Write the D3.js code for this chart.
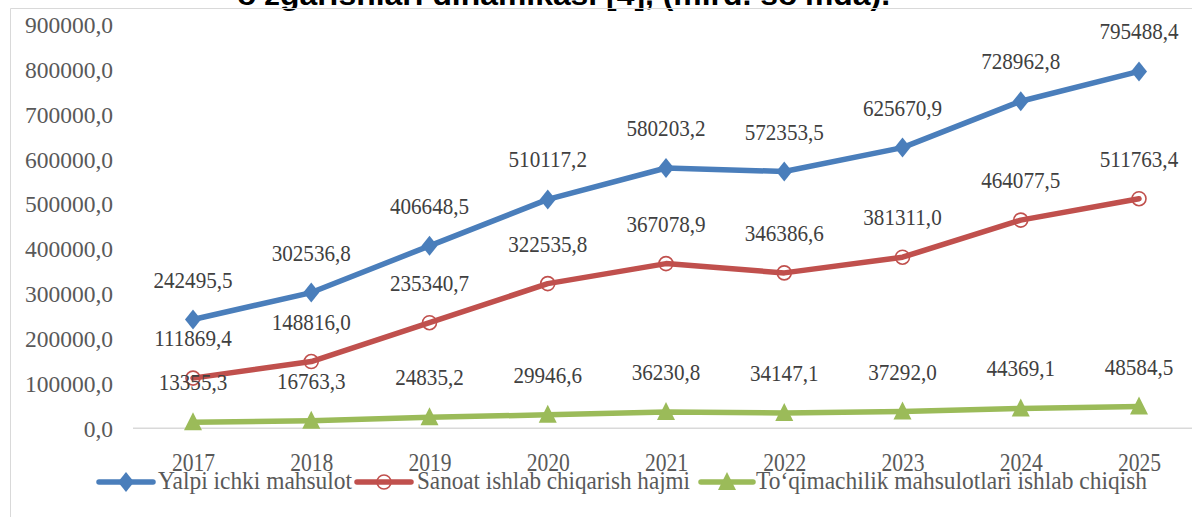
<!DOCTYPE html>
<html><head><meta charset="utf-8">
<script src="https://cdn.jsdelivr.net/npm/d3@7"></script>
<style>
html,body{margin:0;padding:0;background:#fff;overflow:hidden}
svg{display:block}
</style></head>
<body>
<svg id="c" width="1192" height="517"></svg>
<script>
const years = ["2017","2018","2019","2020","2021","2022","2023","2024","2025"];
const gdp = [242495.5,302536.8,406648.5,510117.2,580203.2,572353.5,625670.9,728962.8,795488.4];
const industry = [111869.4,148816.0,235340.7,322535.8,367078.9,346386.6,381311.0,464077.5,511763.4];
const textile = [13355.3,16763.3,24835.2,29946.6,36230.8,34147.1,37292.0,44369.1,48584.5];
const seriesNames = ["Yalpi ichki mahsulot","Sanoat ishlab chiqarish hajmi","To‘qimachilik mahsulotlari ishlab chiqish"];
const yTicks = [0,100000,200000,300000,400000,500000,600000,700000,800000,900000];
const title = "o'zgarishlari dinamikasi [4], (mlrd. so'mda).";

const series = [
  {name: seriesNames[0], values: gdp, color: "#4a7ebb", marker: "diamond"},
  {name: seriesNames[1], values: industry, color: "#c0504d", marker: "circle"},
  {name: seriesNames[2], values: textile, color: "#9bbb59", marker: "triangle"}
];

const svg = d3.select("#c");
const serif = "'Liberation Serif','Times New Roman',serif";
const fmt = v => d3.format(".1f")(v).replace(".", ",");

// title (cut off at top in the source)
svg.append("text").attr("x", 237).attr("y", 5)
  .attr("font-family","'Liberation Sans',Arial,sans-serif").attr("font-weight","bold")
  .attr("font-size",29).attr("fill","#000")
  .attr("textLength",653).attr("lengthAdjust","spacingAndGlyphs").text(title);

// chart border
svg.append("path").attr("d","M10.5,517 V8.5 H1192").attr("fill","none").attr("stroke","#d9d9d9").attr("stroke-width",1);

const x = d3.scalePoint().domain(years).range([193, 1139]);
const y = d3.scaleLinear().domain([0, 900000]).range([428.3, 24.5]);

// zero gridline
svg.append("line").attr("x1",133).attr("x2",1192).attr("y1",y(0)).attr("y2",y(0))
  .attr("stroke","#d9d9d9").attr("stroke-width",1.5);

// y axis
const yAxis = svg.append("g").attr("transform","translate(133,0)")
  .call(d3.axisLeft(y).tickValues(yTicks).tickFormat(fmt).tickSize(0).tickPadding(20));
yAxis.attr("font-family", null).attr("font-size", null);
yAxis.select(".domain").remove();
yAxis.selectAll("text").style("font-family",serif).style("font-size","23.5px").attr("fill","#595959").attr("dy","0.34em");

// x axis labels
const xAxis = svg.append("g").attr("transform","translate(0,"+y(0)+")")
  .call(d3.axisBottom(x).tickSize(0).tickPadding(0));
xAxis.attr("font-family", null).attr("font-size", null);
xAxis.select(".domain").remove();
xAxis.selectAll("text").style("font-family",serif).style("font-size","26px").attr("fill","#595959")
  .attr("dy",0).attr("y",43).attr("transform","scale(0.83,1)");

const markerPath = {
  diamond: "M0,-10L8,0L0,10L-8,0Z",
  triangle: "M0,-10L9,8L-9,8Z"
};
function drawMarker(g, type, color, cx, cy){
  if(type === "circle"){
    g.append("circle").attr("cx",cx).attr("cy",cy).attr("r",7)
      .attr("fill","none").attr("stroke",color).attr("stroke-width",1.6);
  } else {
    g.append("path").attr("d",markerPath[type]).attr("transform","translate("+cx+","+cy+")")
      .attr("fill",color);
  }
}

const line = d3.line().x((d,i)=>x(years[i])).y(d=>y(d));
series.forEach(s=>{
  const g = svg.append("g");
  g.append("path").attr("d", line(s.values)).attr("fill","none").attr("stroke",s.color)
    .attr("stroke-width",5.5).attr("stroke-linejoin","round").attr("stroke-linecap","round");
  s.values.forEach((v,i)=>drawMarker(g, s.marker, s.color, x(years[i]), y(v)));
});

// data labels
series.forEach(s=>{
  s.values.forEach((v,i)=>{
    svg.append("g").attr("transform","translate("+x(years[i])+","+(y(v)-32)+") scale(0.88,1)")
      .append("text").attr("text-anchor","middle").attr("font-family",serif).attr("font-size",24)
      .attr("fill","#404040").text(fmt(v));
  });
});

// legend
const legendLayout = [
  {lx1: 99, lx2: 153, tx: 158, w: 194},
  {lx1: 357, lx2: 411, tx: 417, w: 273},
  {lx1: 701, lx2: 753, tx: 756, w: 391}
];
const ly = 482;
series.forEach((s,i)=>{
  const L = legendLayout[i];
  const g = svg.append("g");
  g.append("line").attr("x1",L.lx1).attr("x2",L.lx2).attr("y1",ly).attr("y2",ly)
    .attr("stroke",s.color).attr("stroke-width",5.5).attr("stroke-linecap","round");
  drawMarker(g, s.marker, s.color, (L.lx1+L.lx2)/2, ly);
  g.append("text").attr("x",L.tx).attr("y",489).attr("font-family",serif).attr("font-size",26)
    .attr("fill","#595959").attr("textLength",L.w).attr("lengthAdjust","spacingAndGlyphs").text(s.name);
});
</script>
</body></html>
